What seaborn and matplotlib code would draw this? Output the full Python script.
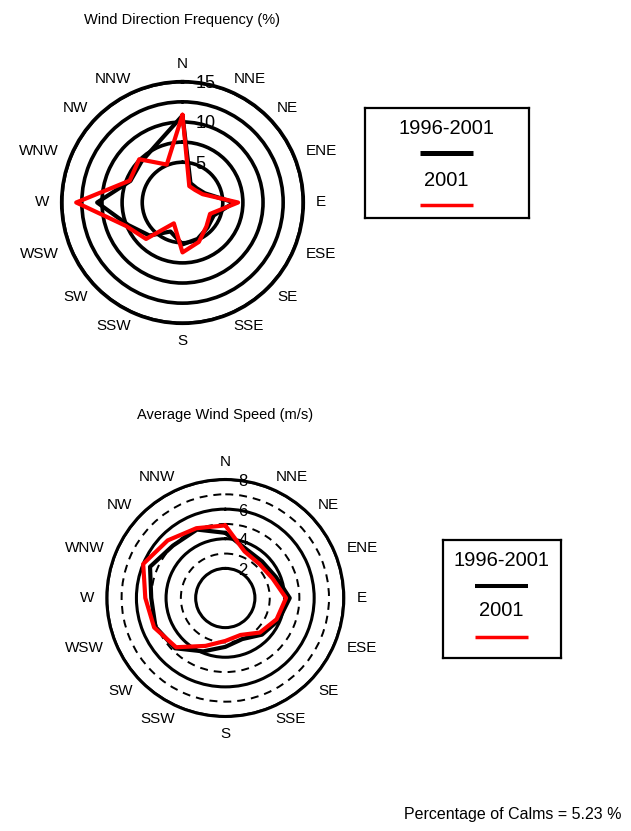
import numpy as np
import pandas as pd
import matplotlib
matplotlib.use("Agg")
import matplotlib.pyplot as plt
import seaborn as sns

# ---------------- data ----------------
directions = ["N", "NNE", "NE", "ENE", "E", "ESE", "SE", "SSE",
              "S", "SSW", "SW", "WSW", "W", "WNW", "NW", "NNW"]
series_labels = ["1996-2001", "2001"]
series_colors = ["black", "red"]

freq_1996_2001 = [10.8, 2.6, 2.5, 3.0, 6.4, 4.2, 4.4, 4.9, 5.2, 3.9, 5.8, 7.3, 10.6, 7.0, 7.2, 8.0]
freq_2001 = [10.9, 2.2, 2.2, 2.7, 6.9, 3.7, 4.2, 5.3, 6.2, 2.8, 6.4, 7.6, 13.2, 7.1, 7.6, 5.1]

speed_1996_2001 = [4.4, 3.6, 3.5, 3.7, 4.35, 3.9, 3.5, 3.0, 3.3, 3.9, 4.8, 5.1, 5.0, 5.5, 5.0, 5.0]
speed_2001 = [4.9, 3.4, 3.25, 3.45, 4.1, 3.75, 3.3, 2.7, 2.9, 3.5, 4.7, 5.2, 5.4, 6.0, 5.5, 5.1]

freq_rings = [5, 7.5, 10, 12.5, 15]
freq_ring_dashed = [False, False, False, False, False]
freq_tick_values = [5, 10, 15]
freq_tick_labels = ["5", "10", "15"]

speed_rings = [2, 3, 4, 5, 6, 7, 8]
speed_ring_dashed = [False, True, False, True, False, True, False]
speed_tick_values = [2, 4, 6, 8]
speed_tick_labels = ["2", "4", "6", "8"]

title_freq = "Wind Direction Frequency (%)"
title_speed = "Average Wind Speed (m/s)"
calms_text = "Percentage of Calms = 5.23 %"

# ---------------- style ----------------
sns.set_style("white")
plt.rcParams["font.family"] = ["Liberation Sans", "DejaVu Sans"]
plt.rcParams["text.color"] = "black"
plt.rcParams["axes.labelcolor"] = "black"

W, H = 631, 831
fig = plt.figure(figsize=(W / 100, H / 100), dpi=100)


def polar_axes(cx, cy, R):
    return fig.add_axes([(cx - R) / W, (H - cy - R) / H, 2 * R / W, 2 * R / H],
                        projection="polar")


def rose(ax, series, rmax, rings, dashed, tick_vals, tick_labels,
         r_side, r_ns, tick_fs, ring_lw, data_lw):
    ax.set_theta_zero_location("N")
    ax.set_theta_direction(-1)
    ax.set_facecolor("none")
    theta = np.deg2rad(np.arange(len(directions)) * 22.5)
    for vals, color in zip(series, series_colors):
        df = pd.DataFrame({"theta": np.append(theta, theta[0] + 2 * np.pi),
                           "r": list(vals) + [vals[0]]})
        sns.lineplot(data=df, x="theta", y="r", sort=False, estimator=None,
                     color=color, lw=data_lw, ax=ax, zorder=5)
    ax.set_xlabel("")
    ax.set_ylabel("")
    ax.set_ylim(0, rmax)
    ax.set_xticks([])
    ax.set_yticks(rings)
    ax.set_yticklabels([])
    ax.xaxis.grid(False)
    ax.yaxis.grid(True)
    for tick, d in zip(ax.yaxis.get_major_ticks(), dashed):
        gl = tick.gridline
        gl.set_color("black")
        if d:
            gl.set_linewidth(ring_lw * 0.65)
            gl.set_linestyle((0, (4, 3)))
        else:
            gl.set_linewidth(ring_lw)
            gl.set_linestyle("-")
    ax.spines["polar"].set_linewidth(ring_lw)
    ax.spines["polar"].set_color("black")
    ax.tick_params(axis="y", length=0)
    for v, lab in zip(tick_vals, tick_labels):
        ax.annotate(lab, xy=(0, v), xytext=(13, -2), textcoords="offset pixels",
                    ha="left", va="center", fontsize=tick_fs, zorder=6,
                    color="black", annotation_clip=False)
    for i, d in enumerate(directions):
        ang = i * 22.5
        if ang in (0, 180):
            ha, r = "center", r_ns
        elif ang < 180:
            ha, r = "left", r_side
        else:
            ha, r = "right", r_side
        ax.text(np.deg2rad(ang), r, d, ha=ha, va="center", fontsize=11,
                color="black", clip_on=False)


ax1 = polar_axes(182.5, 202.5, 120.8)
rose(ax1, [freq_1996_2001, freq_2001], 15, freq_rings, freq_ring_dashed,
     freq_tick_values, freq_tick_labels, r_side=16.6, r_ns=17.2,
     tick_fs=13, ring_lw=2.6, data_lw=3.0)

ax2 = polar_axes(225.3, 598, 118.5)
rose(ax2, [speed_1996_2001, speed_2001], 8, speed_rings, speed_ring_dashed,
     speed_tick_values, speed_tick_labels, r_side=8.85, r_ns=9.2,
     tick_fs=12, ring_lw=2.2, data_lw=3.0)

fig.text(182.5 / W, 1 - 20 / H, title_freq, ha="center", va="center",
         fontsize=10.5, color="black")
fig.text(225 / W, 1 - 415 / H, title_speed, ha="center", va="center",
         fontsize=10.5, color="black")


def legend_box(x0, y0, x1, y1, text_y, line_y, line_x, black_lw, red_lw):
    lax = fig.add_axes([x0 / W, (H - y1) / H, (x1 - x0) / W, (y1 - y0) / H])
    w, h = x1 - x0, y1 - y0
    lax.set_xlim(0, w)
    lax.set_ylim(h, 0)
    lax.set_xticks([])
    lax.set_yticks([])
    lax.set_facecolor("white")
    for s in lax.spines.values():
        s.set_linewidth(1.6)
        s.set_color("black")
        s.set_visible(True)
    cx = (line_x[0] + line_x[1]) / 2
    for lab, col, ty, ly, lw in zip(series_labels, series_colors, text_y, line_y,
                                    [black_lw, red_lw]):
        lax.text(cx, ty, lab, ha="center", va="center", fontsize=14.5, color="black")
        lax.plot(line_x, [ly, ly], color=col, lw=lw, solid_capstyle="butt")


legend_box(365, 108, 529, 218, text_y=[21, 72], line_y=[44.7, 97],
           line_x=[55, 108], black_lw=3.6, red_lw=2.5)
legend_box(443, 540, 561, 658, text_y=[20, 70], line_y=[45.7, 96.7],
           line_x=[32, 85], black_lw=2.9, red_lw=2.5)

fig.text(622 / W, 1 - 815 / H, calms_text, ha="right", va="center",
         fontsize=11.5, color="black")

fig.savefig("out.png", dpi=100)
